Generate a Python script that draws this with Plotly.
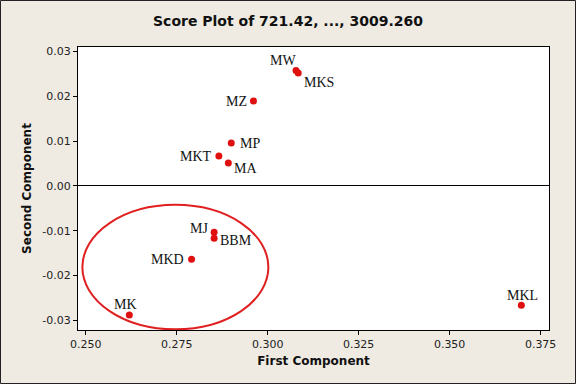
import plotly.graph_objects as go

# Data
labels = ["MW", "MKS", "MZ", "MP", "MKT", "MA", "MJ", "BBM", "MKD", "MK", "MKL"]
first_component = [0.3078, 0.3084, 0.2961, 0.2900, 0.2866, 0.2892, 0.2853, 0.2853, 0.2791, 0.2620, 0.3697]
second_component = [0.02574, 0.02516, 0.0189, 0.00953, 0.00663, 0.00507, -0.01033, -0.01167, -0.01636, -0.0288, -0.02663]
# label offsets from point centre in pixels (dx right, dy up)
label_dx = [-13, 21, -17, 19, -23, 17, -15, 22, -24, -4, 1]
label_dy = [10, -9, 0, 0, 0, -5, 4, -2, 0, 11, 10]

x_ticks = [0.250, 0.275, 0.300, 0.325, 0.350, 0.375]
x_tick_text = ["0.250", "0.275", "0.300", "0.325", "0.350", "0.375"]
y_ticks = [0.03, 0.02, 0.01, 0.00, -0.01, -0.02, -0.03]
y_tick_text = ["0.03", "0.02", "0.01", "0.00", "-0.01", "-0.02", "-0.03"]

# highlighted cluster ellipse (data bounds)
ellipse_x = [0.2491, 0.3002]
ellipse_y = [-0.0320, -0.00424]

fig = go.Figure()
fig.add_trace(go.Scatter(
    x=first_component, y=second_component, mode="markers",
    marker=dict(color="#e01010", size=7, line=dict(width=0)),
    hoverinfo="skip", showlegend=False, cliponaxis=False,
))

for lab, xv, yv, dx, dy in zip(labels, first_component, second_component, label_dx, label_dy):
    fig.add_annotation(x=xv, y=yv, xref="x", yref="y", text=lab, showarrow=False,
                       xanchor="center", yanchor="middle", xshift=dx, yshift=dy,
                       font=dict(family="Liberation Serif", size=14, color="#111111"))

fig.add_shape(type="circle", xref="x", yref="y",
              x0=ellipse_x[0], x1=ellipse_x[1], y0=ellipse_y[0], y1=ellipse_y[1],
              line=dict(color="#e02020", width=2))

# outer border around the whole picture
fig.add_shape(type="rect", xref="paper", yref="paper",
              x0=-77.5 / 471, x1=(575.5 - 78) / 471, y0=-(383.5 - 330) / 283, y1=1 + 46.5 / 283,
              line=dict(color="#222222", width=1), layer="below")

fig.update_layout(
    width=576, height=384,
    margin=dict(l=78, r=27, t=47, b=54),
    paper_bgcolor="#efebe2", plot_bgcolor="white",
    title=dict(text="<b>Score Plot of 721.42, ..., 3009.260</b>", x=0.5, xanchor="center",
               y=1 - 21 / 384, yanchor="middle",
               font=dict(family="DejaVu Sans", size=14, color="#111111")),
    font=dict(family="DejaVu Sans", size=11, color="#222222"),
)
fig.update_xaxes(
    range=[0.2479, 0.3773], tickvals=x_ticks, ticktext=x_tick_text,
    showgrid=False, zeroline=False, showline=True, linecolor="black", linewidth=1, mirror=True,
    ticks="outside", ticklen=4, tickcolor="black",
    title=dict(text="<b>First Component</b>", font=dict(family="DejaVu Sans", size=12, color="#111111"), standoff=6),
)
fig.update_yaxes(
    range=[-0.03214, 0.03096], tickvals=y_ticks, ticktext=y_tick_text,
    showgrid=False, zeroline=True, zerolinecolor="black", zerolinewidth=1,
    showline=True, linecolor="black", linewidth=1, mirror=True,
    ticks="outside", ticklen=4, tickcolor="black",
    title=dict(text="<b>Second Component</b>", font=dict(family="DejaVu Sans", size=12, color="#111111"), standoff=8),
)

fig.write_html("out.html", config={"displayModeBar": False},
               post_script="document.body.style.margin='0';")
